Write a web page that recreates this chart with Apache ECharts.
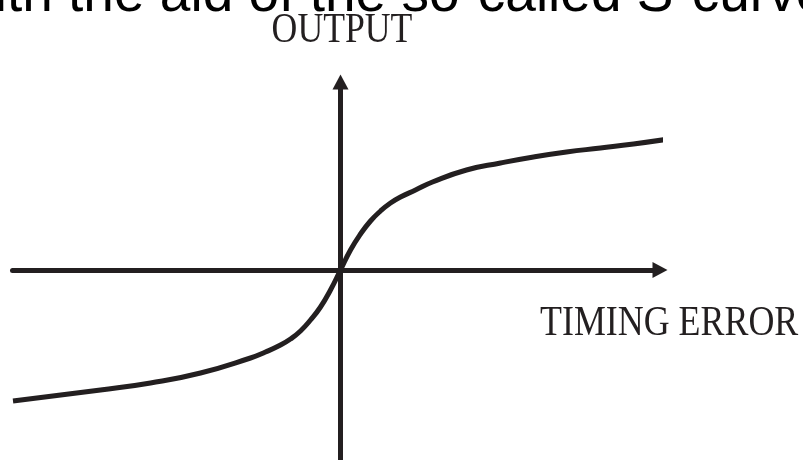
<!DOCTYPE html>
<html>
<head>
<meta charset="utf-8">
<script src="https://cdn.jsdelivr.net/npm/echarts@6/dist/echarts.min.js"></script>
<style>
  html, body { margin: 0; padding: 0; background: #fff; }
  #chart { width: 803px; height: 460px; }
</style>
</head>
<body>
<div id="chart"></div>
<script>
// S-curve (units = pixels from the origin)
const timingError = [-327.5, -240, -190, -140, -90, -75, -60, -50, -40, -30, -20, -10, 0,
  10, 20, 30, 40, 50, 60, 75, 92, 126, 160, 193, 226, 260, 293, 328.5];
const output = [-131, -120, -113, -103, -88, -82, -75, -69, -61, -50, -37, -20, 0,
  20, 36, 49, 59, 67, 73, 80, 88, 100, 107, 113, 118, 122, 126, 131];

const xLabel = "TIMING ERROR";
const yLabel = "OUTPUT";
const caption = "with the aid of the so-called S-curve";

const INK = "#231f20";

const chart = echarts.init(document.getElementById("chart"));

const axisCommon = {
  type: "value",
  axisTick: { show: false },
  axisLabel: { show: false },
  splitLine: { show: false },
  axisLine: {
    show: true,
    onZero: true,
    symbol: ["none", "triangle"],
    symbolSize: [16, 15],
    lineStyle: { color: INK, width: 5 },
  },
};

chart.setOption({
  animation: false,
  backgroundColor: "#fff",
  grid: { left: 12.5, right: 143, top: 82, bottom: 0 },
  xAxis: Object.assign({}, axisCommon, { min: -328, max: 319.5 }),
  yAxis: Object.assign({}, axisCommon, { min: -190, max: 188 }),
  series: [
    {
      type: "line",
      data: timingError.map((x, i) => [x, output[i]]),
      smooth: 0.5,
      symbol: "none",
      clip: false,
      lineStyle: { color: INK, width: 5, cap: "butt" },
    },
  ],
  graphic: [
    {
      type: "text",
      x: -45,
      y: -4,
      style: {
        text: caption,
        font: "55px 'Liberation Sans', Arial, sans-serif",
        fill: "#000",
        align: "left",
        verticalAlign: "middle",
      },
    },
    {
      type: "text",
      x: 342,
      y: 30.5,
      scaleX: 0.83,
      style: {
        text: yLabel,
        font: "43px 'Liberation Serif', 'Times New Roman', serif",
        fill: INK,
        align: "center",
        verticalAlign: "middle",
      },
    },
    {
      type: "text",
      x: 540,
      y: 324,
      scaleX: 0.835,
      style: {
        text: xLabel,
        font: "43px 'Liberation Serif', 'Times New Roman', serif",
        fill: INK,
        align: "left",
        verticalAlign: "middle",
      },
    },
  ],
});
</script>
</body>
</html>
